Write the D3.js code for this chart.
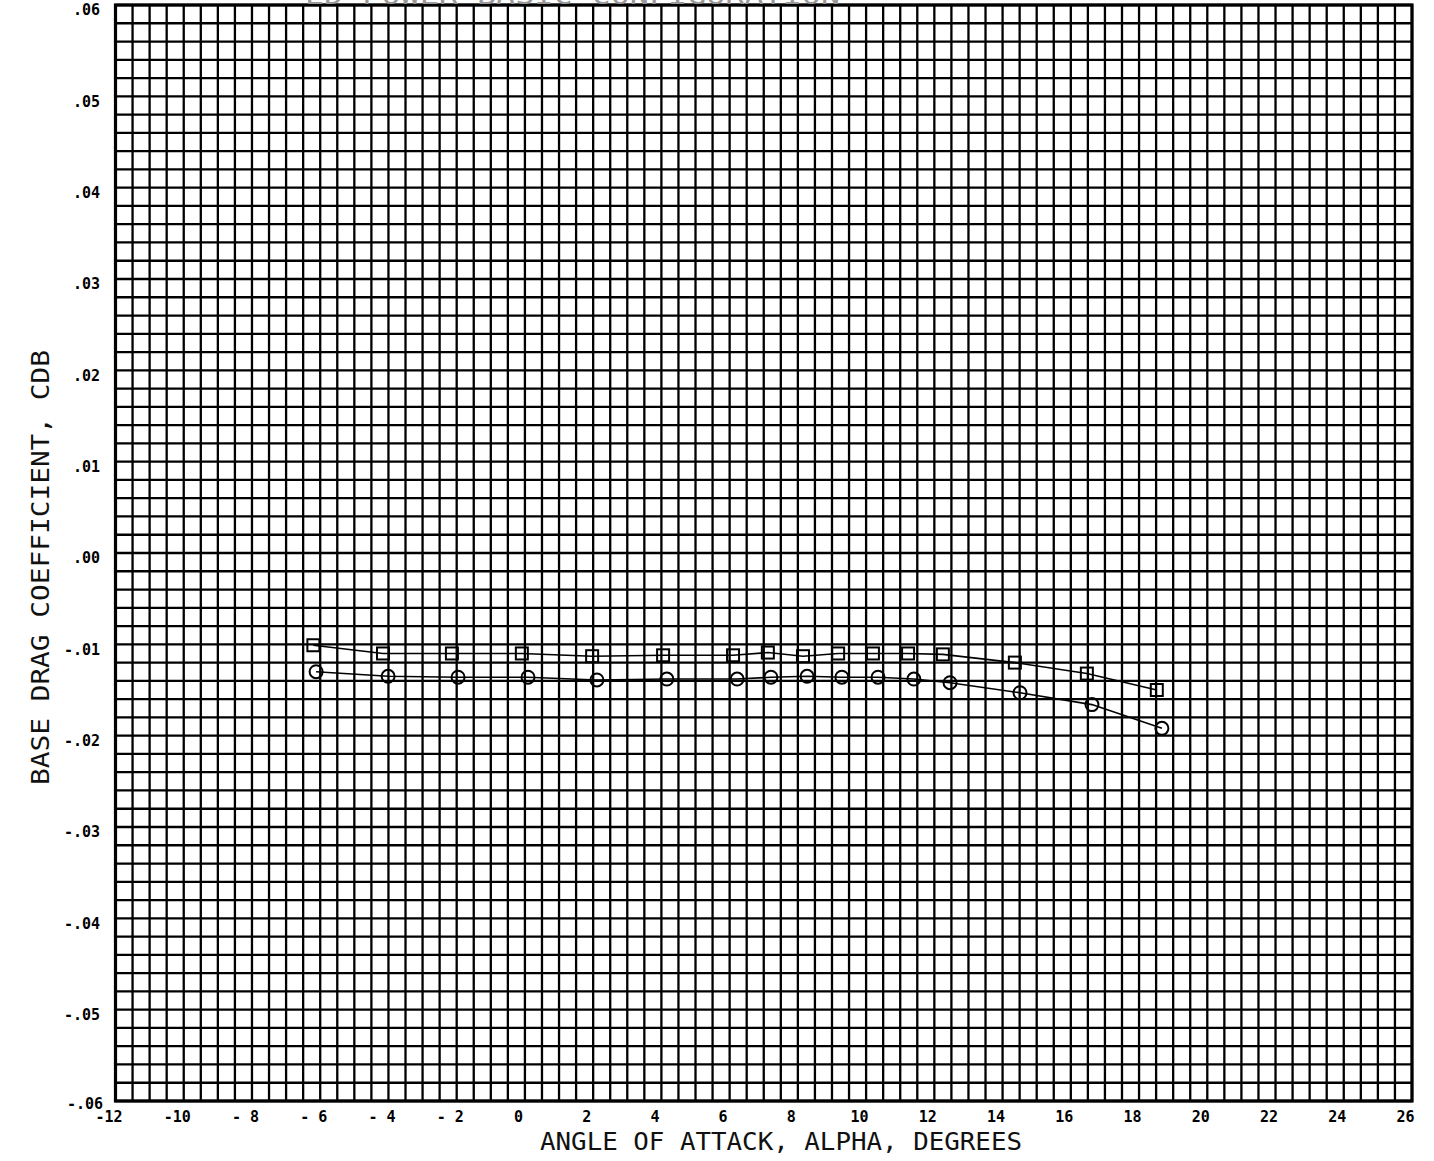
<!DOCTYPE html>
<html>
<head>
<meta charset="utf-8">
<script src="https://cdn.jsdelivr.net/npm/d3@7"></script>
<style>
  body { margin: 0; background: #fff; }
  svg { display: block; }
</style>
</head>
<body>
<svg id="chart"></svg>
<script>
/* Values */
var alphaSquares = [-6.2, -4.16, -2.14, -0.09, 1.97, 4.05, 6.10, 7.12, 8.15, 9.18, 10.20, 11.23, 12.25, 14.36, 16.47, 18.52];
var cdbSquares   = [-0.0101, -0.0110, -0.0110, -0.0110, -0.0113, -0.0112, -0.0112, -0.0109, -0.0113, -0.0110, -0.0110, -0.0110, -0.0111, -0.0120, -0.0132, -0.0150];

var alphaCircles = [-6.12, -4.01, -1.96, 0.09, 2.11, 4.16, 6.22, 7.21, 8.27, 9.29, 10.35, 11.40, 12.46, 14.51, 16.62, 18.67];
var cdbCircles   = [-0.0130, -0.0135, -0.0136, -0.0136, -0.0139, -0.0138, -0.0138, -0.0136, -0.0135, -0.0136, -0.0136, -0.0138, -0.0142, -0.0153, -0.0166, -0.0192];

var xTickValues = [-12, -10, -8, -6, -4, -2, 0, 2, 4, 6, 8, 10, 12, 14, 16, 18, 20, 22, 24, 26];
var yTickValues = [0.06, 0.05, 0.04, 0.03, 0.02, 0.01, 0, -0.01, -0.02, -0.03, -0.04, -0.05];

var width = 1434, height = 1161;
var plot = { left: 115.5, right: 1412, top: 5, bottom: 1101 };

var svg = d3.select("#chart")
    .attr("width", width)
    .attr("height", height);

var x = d3.scaleLinear().domain([-12, 26]).range([plot.left, plot.right]);
var y = d3.scaleLinear().domain([-0.06, 0.06]).range([plot.bottom, plot.top]);

// Fine grid: half a degree by 0.002
var gx = d3.range(-12, 26.001, 0.5);
var gy = d3.range(0, 61).map(function(i) { return -0.06 + i * 0.002; });

var grid = svg.append("g").attr("stroke", "#000").attr("stroke-width", 2.3);

grid.selectAll("line.v")
    .data(gx)
    .enter().append("line")
    .attr("class", "v")
    .attr("x1", function(d) { return x(d); })
    .attr("x2", function(d) { return x(d); })
    .attr("y1", plot.top)
    .attr("y2", plot.bottom);

grid.selectAll("line.h")
    .data(gy)
    .enter().append("line")
    .attr("class", "h")
    .attr("y1", function(d) { return y(d); })
    .attr("y2", function(d) { return y(d); })
    .attr("x1", plot.left)
    .attr("x2", plot.right);

// Frame
svg.append("rect")
    .attr("x", plot.left)
    .attr("y", plot.top)
    .attr("width", plot.right - plot.left)
    .attr("height", plot.bottom - plot.top)
    .attr("fill", "none")
    .attr("stroke", "#000")
    .attr("stroke-width", 3.2);

// X tick labels
var xAxis = svg.append("g")
    .attr("transform", "translate(-7," + (plot.bottom + 21) + ")")
    .call(d3.axisBottom(x)
        .tickValues(xTickValues)
        .tickSize(0)
        .tickPadding(0)
        .tickFormat(function(d) {
            if (d < 0 && d > -10) return "- " + (-d);
            return d < 0 ? "-" + (-d) : "" + d;
        }));
xAxis.select(".domain").remove();
xAxis.selectAll("text")
    .attr("dy", 0)
    .attr("font-family", "DejaVu Sans Mono")
    .attr("font-weight", "bold")
    .attr("font-size", 15)
    .attr("fill", "#000");

// Y tick labels
var yAxis = svg.append("g")
    .attr("transform", "translate(100,5)")
    .call(d3.axisLeft(y)
        .tickValues(yTickValues)
        .tickSize(0)
        .tickPadding(0)
        .tickFormat(function(d) {
            var s = Math.abs(d).toFixed(2).replace(/^0/, "");
            return d < 0 ? "-" + s : s;
        }));
yAxis.select(".domain").remove();
yAxis.selectAll("text")
    .attr("font-family", "DejaVu Sans Mono")
    .attr("font-weight", "bold")
    .attr("font-size", 15)
    .attr("fill", "#000");

// the bottom-left -.06 label sits just above the -12
svg.append("text")
    .attr("x", 103)
    .attr("y", y(-0.06) + 8)
    .attr("text-anchor", "end")
    .attr("font-family", "DejaVu Sans Mono")
    .attr("font-weight", "bold")
    .attr("font-size", 15)
    .text("-.06");

// Axis titles
svg.append("text")
    .attr("x", 540)
    .attr("y", 1150)
    .attr("textLength", 482)
    .attr("lengthAdjust", "spacingAndGlyphs")
    .attr("font-family", "DejaVu Sans Mono")
    .attr("font-size", 24)
    .attr("fill", "#111")
    .text("ANGLE OF ATTACK, ALPHA, DEGREES");

svg.append("text")
    .attr("transform", "translate(49,785) rotate(-90)")
    .attr("textLength", 435)
    .attr("lengthAdjust", "spacingAndGlyphs")
    .attr("font-family", "DejaVu Sans Mono")
    .attr("font-size", 24)
    .attr("fill", "#111")
    .text("BASE DRAG COEFFICIENT, CDB");

// Title, mostly cut off by the top edge as in the scan
svg.append("text")
    .attr("x", 305)
    .attr("y", 4)
    .attr("textLength", 535)
    .attr("lengthAdjust", "spacingAndGlyphs")
    .attr("font-family", "DejaVu Sans Mono")
    .attr("font-size", 24)
    .attr("fill", "#999")
    .text("ED POWER  BASIC CONFIGURATION");

// Series lines
var seriesSq = alphaSquares.map(function(a, i) { return { a: a, c: cdbSquares[i] }; });
var seriesCi = alphaCircles.map(function(a, i) { return { a: a, c: cdbCircles[i] }; });

var valueline = d3.line()
    .x(function(d) { return x(d.a); })
    .y(function(d) { return y(d.c); });

svg.append("path")
    .datum(seriesSq)
    .attr("d", valueline)
    .attr("fill", "none")
    .attr("stroke", "#000")
    .attr("stroke-width", 1.6);

svg.append("path")
    .datum(seriesCi)
    .attr("d", valueline)
    .attr("fill", "none")
    .attr("stroke", "#000")
    .attr("stroke-width", 1.6);

// Symbols
svg.selectAll("rect.sq")
    .data(seriesSq)
    .enter().append("rect")
    .attr("class", "sq")
    .attr("x", function(d) { return x(d.a) - 6; })
    .attr("y", function(d) { return y(d.c) - 6; })
    .attr("width", 12)
    .attr("height", 12)
    .attr("fill", "none")
    .attr("stroke", "#000")
    .attr("stroke-width", 2);

svg.selectAll("circle.ci")
    .data(seriesCi)
    .enter().append("circle")
    .attr("class", "ci")
    .attr("cx", function(d) { return x(d.a); })
    .attr("cy", function(d) { return y(d.c); })
    .attr("r", 6.5)
    .attr("fill", "none")
    .attr("stroke", "#000")
    .attr("stroke-width", 2);
</script>
</body>
</html>
